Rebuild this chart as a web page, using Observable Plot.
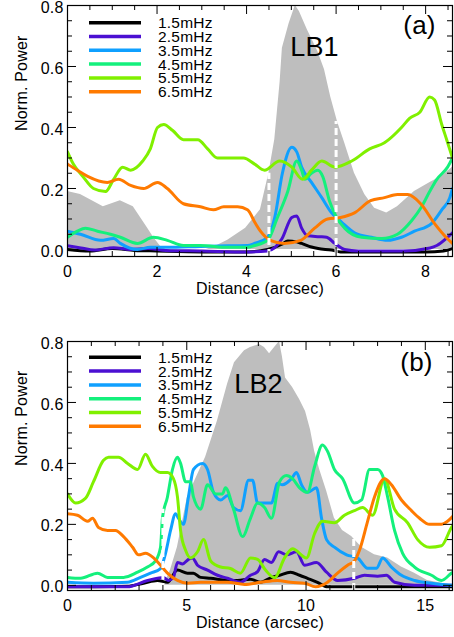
<!DOCTYPE html>
<html><head><meta charset="utf-8">
<script src="https://cdn.jsdelivr.net/npm/d3@7"></script>
<script src="https://cdn.jsdelivr.net/npm/@observablehq/plot@0.6"></script>
<style>
body{margin:0;background:#fff;}
#chart{width:454px;}
#chart svg{display:block;}
</style></head><body><div id="chart"></div>
<script>
const freqs = ["1.5mHz","2.5mHz","3.5mHz","4.5mHz","5.5mHz","6.5mHz"];
const colors = ["#000000","#4b0fd2","#0fa0ff","#14f07c","#80f000","#ff7a00"];

// ---------- Panel (a) : LB1 ----------
const grayA = [[0,0.19],[0.29,0.18],[0.8,0.14],[1.18,0.16],[1.47,0.14],[1.79,0.07],[1.92,0.04],[2.08,0.01],[2.2,0],[3.1,0],[3.3,0.01],[3.58,0.03],[3.98,0.07],[4.31,0.13],[4.5,0.25],[4.63,0.36],[4.75,0.55],[4.8,0.66],[4.95,0.74],[5.09,0.80],[5.18,0.78],[5.36,0.72],[5.59,0.65],[5.74,0.59],[5.88,0.5],[6.03,0.42],[6.19,0.35],[6.41,0.25],[6.64,0.18],[6.86,0.135],[7.13,0.12],[7.37,0.14],[7.75,0.19],[8.1,0.22],[8.36,0.24],[8.6,0.27]];
const a15 = [[0,0.0],[0.5,-0.005],[1.0,0.003],[1.5,-0.003],[2.0,-0.005],[3.0,-0.008],[4.0,-0.008],[4.47,0.0],[4.8,0.018],[4.92,0.028],[5.12,0.025],[5.23,0.02],[5.45,0.008],[5.6,0.003],[5.9,-0.002],[6.1,-0.008],[7.0,-0.008],[8.0,-0.008],[8.4,-0.005],[8.6,0.003]];
const a25 = [[0,0.012],[0.3,0.005],[0.6,-0.002],[1.03,0.006],[1.4,0.0],[1.8,0.003],[2.2,-0.003],[3.0,-0.005],[4.0,-0.008],[4.47,-0.005],[4.79,0.035],[5.01,0.105],[5.12,0.11],[5.23,0.07],[5.36,0.045],[5.63,0.042],[5.79,0.04],[5.97,0.02],[6.19,0.0],[6.5,-0.005],[7.5,-0.005],[8.1,0.005],[8.25,0.013],[8.49,0.04],[8.6,0.055]];
const a35 = [[0,0.06],[0.29,0.05],[0.74,0.03],[1.03,0.036],[1.18,0.02],[1.56,0.0],[1.85,0.007],[2.23,0.007],[2.97,0.01],[3.58,0.012],[4.02,0.013],[4.18,0.02],[4.47,0.04],[4.63,0.105],[4.8,0.25],[5.01,0.335],[5.12,0.32],[5.23,0.27],[5.45,0.22],[5.68,0.17],[5.9,0.12],[6.12,0.09],[6.41,0.055],[6.79,0.04],[7.15,0.03],[7.46,0.04],[7.75,0.06],[8.13,0.085],[8.36,0.13],[8.54,0.17],[8.6,0.2]];
const a45 = [[0,0.04],[0.22,0.06],[0.4,0.07],[0.67,0.06],[0.96,0.05],[1.18,0.04],[1.56,0.02],[1.92,0.04],[2.23,0.03],[2.59,0.013],[2.97,0.013],[3.58,0.007],[4.02,0.007],[4.18,0.013],[4.47,0.03],[4.69,0.105],[4.92,0.19],[5.12,0.29],[5.23,0.26],[5.3,0.23],[5.45,0.25],[5.59,0.26],[5.7,0.24],[5.85,0.16],[6.01,0.105],[6.19,0.07],[6.57,0.04],[7.02,0.036],[7.37,0.05],[7.69,0.095],[7.91,0.14],[8.09,0.19],[8.25,0.23],[8.49,0.27],[8.6,0.30]];
const a55 = [[0,0.32],[0.13,0.28],[0.34,0.24],[0.58,0.20],[0.85,0.19],[1.03,0.23],[1.23,0.27],[1.41,0.26],[1.68,0.29],[1.85,0.33],[2.01,0.40],[2.15,0.41],[2.35,0.39],[2.59,0.36],[2.91,0.36],[3.13,0.33],[3.35,0.30],[3.64,0.30],[3.93,0.30],[4.18,0.28],[4.4,0.26],[4.74,0.29],[5.01,0.27],[5.25,0.23],[5.45,0.26],[5.68,0.29],[5.97,0.27],[6.35,0.29],[6.75,0.33],[7.08,0.35],[7.46,0.40],[7.64,0.43],[7.87,0.45],[8.09,0.50],[8.2,0.49],[8.36,0.41],[8.47,0.36],[8.6,0.30]];
const a65 = [[0,0.28],[0.22,0.26],[0.45,0.24],[0.89,0.22],[1.14,0.23],[1.41,0.21],[1.7,0.20],[2.01,0.22],[2.23,0.20],[2.59,0.15],[2.97,0.14],[3.26,0.13],[3.49,0.14],[3.8,0.14],[4.02,0.13],[4.2,0.085],[4.31,0.06],[4.53,0.03],[4.84,0.02],[5.21,0.03],[5.52,0.07],[5.81,0.10],[6.1,0.105],[6.41,0.12],[6.77,0.16],[7.08,0.17],[7.37,0.18],[7.6,0.18],[7.89,0.15],[8.2,0.085],[8.49,0.035],[8.6,0.02]];
const dashA = [{x:4.5, top:0.25},{x:6.0, top:0.42}];

// ---------- Panel (b) : LB2 ----------
const grayB = [[0,0],[4.05,0],[4.32,0.05],[4.61,0.125],[5.03,0.29],[5.79,0.42],[6.29,0.54],[6.71,0.66],[7.0,0.73],[7.42,0.77],[7.67,0.78],[8.05,0.79],[8.26,0.78],[8.47,0.76],[8.68,0.78],[8.89,0.80],[9.01,0.75],[9.14,0.68],[9.43,0.65],[9.73,0.61],[9.98,0.57],[10.19,0.51],[10.36,0.44],[10.57,0.38],[10.86,0.31],[11.19,0.22],[11.53,0.18],[11.91,0.16],[12.33,0.125],[12.87,0.10],[13.42,0.09],[14.0,0.06],[14.55,0.04],[15.09,0.016],[15.68,0.007],[16.2,0]];
const b15 = [[0,-0.005],[2.5,-0.003],[3.19,0.007],[3.77,0.016],[4.19,0.01],[4.61,0.05],[5.03,0.04],[5.28,0.04],[5.58,0.026],[6.0,0.023],[6.71,0.016],[7.13,0.016],[7.67,0.02],[8.1,0.01],[8.47,0.023],[8.89,0.033],[9.35,0.043],[9.73,0.033],[10.06,0.023],[10.48,0.01],[10.9,-0.005],[16.2,-0.005]];
const b25 = [[0,-0.005],[1.4,-0.005],[2.5,-0.005],[3.36,0.016],[3.77,0.023],[4.02,0.026],[4.23,0.016],[4.44,0.026],[4.61,0.075],[4.82,0.07],[5.07,0.085],[5.24,0.09],[5.45,0.066],[5.87,0.05],[6.29,0.033],[6.71,0.023],[7.25,0.01],[7.67,0.033],[7.97,0.045],[8.26,0.085],[8.55,0.075],[8.85,0.11],[9.18,0.10],[9.6,0.11],[9.94,0.066],[10.44,0.075],[10.86,0.043],[11.32,0.016],[12.03,0.023],[12.45,0.033],[13.0,0.03],[13.37,0.033],[13.71,0.01],[14.55,0.0],[16.2,0.0]];
const b35 = [[0,0.01],[1.09,0.007],[2.52,0.01],[3.06,0.026],[3.48,0.04],[3.9,0.055],[4.11,0.105],[4.32,0.18],[4.53,0.235],[4.65,0.22],[4.86,0.20],[5.07,0.29],[5.28,0.38],[5.66,0.40],[5.87,0.38],[6.12,0.305],[6.42,0.28],[6.71,0.295],[6.96,0.255],[7.25,0.245],[7.59,0.345],[7.76,0.345],[7.97,0.27],[8.2,0.27],[8.55,0.27],[8.81,0.335],[9.01,0.33],[9.39,0.35],[9.6,0.37],[9.81,0.33],[10.06,0.305],[10.44,0.32],[10.65,0.22],[10.86,0.15],[11.19,0.125],[11.7,0.10],[12.16,0.09],[12.58,0.056],[12.96,0.056],[13.21,0.09],[13.58,0.06],[14.0,0.033],[14.55,0.016],[15.26,0.007],[16.2,0.0]];
const b45 = [[0,0.026],[0.55,0.023],[1.26,0.04],[1.68,0.026],[2.35,0.026],[2.94,0.043],[3.35,0.06],[3.69,0.08],[3.9,0.125],[3.98,0.22],[4.19,0.29],[4.4,0.38],[4.61,0.42],[4.74,0.40],[4.95,0.34],[5.16,0.34],[5.28,0.29],[5.58,0.25],[5.87,0.33],[6.21,0.30],[6.5,0.30],[6.62,0.32],[6.96,0.25],[7.34,0.16],[7.67,0.22],[7.97,0.27],[8.26,0.255],[8.55,0.22],[8.89,0.34],[9.18,0.36],[9.43,0.35],[9.73,0.32],[10.06,0.305],[10.36,0.39],[10.69,0.46],[10.9,0.44],[11.19,0.38],[11.53,0.35],[12.03,0.27],[12.33,0.28],[12.66,0.38],[13.0,0.38],[13.21,0.36],[13.42,0.29],[13.71,0.18],[14.05,0.105],[14.55,0.06],[15.26,0.033],[15.68,0.016],[16.1,0.04],[16.2,0.045]];
const b55 = [[0,0.30],[0.34,0.27],[0.75,0.285],[1.09,0.34],[1.51,0.41],[1.72,0.42],[2.14,0.42],[2.52,0.40],[2.94,0.38],[3.27,0.43],[3.56,0.39],[3.9,0.37],[4.19,0.37],[4.44,0.35],[4.61,0.29],[4.74,0.18],[4.95,0.115],[5.16,0.09],[5.45,0.11],[5.7,0.15],[6.0,0.08],[6.42,0.06],[6.83,0.055],[7.25,0.04],[7.67,0.09],[7.97,0.085],[8.3,0.05],[8.68,0.025],[9.1,0.09],[9.43,0.12],[10.02,0.09],[10.36,0.17],[10.69,0.21],[11.19,0.205],[11.61,0.23],[12.03,0.245],[12.37,0.255],[12.79,0.23],[13.29,0.35],[13.71,0.25],[14.26,0.205],[14.68,0.15],[15.18,0.125],[15.68,0.13],[16.1,0.19],[16.2,0.2]];
const b65 = [[0,0.235],[0.42,0.23],[0.84,0.21],[1.05,0.22],[1.3,0.19],[1.68,0.18],[2.01,0.18],[2.35,0.16],[2.73,0.125],[2.98,0.10],[3.27,0.105],[3.61,0.09],[3.9,0.066],[4.19,0.04],[4.61,0.016],[5.03,0.007],[5.58,0.01],[6.12,0.01],[6.71,0.01],[7.42,0.003],[8.1,0.01],[8.8,0.016],[9.35,0.01],[9.94,0.007],[10.4,-0.005],[10.9,0.01],[11.32,0.04],[11.74,0.066],[12.03,0.08],[12.24,0.115],[12.58,0.21],[12.87,0.29],[13.29,0.35],[13.58,0.33],[14.0,0.28],[14.42,0.245],[14.76,0.22],[15.18,0.2],[15.68,0.2],[15.93,0.21],[16.2,0.23]];
const dashB = [{x:4.0, top:0.25},{x:12.0, top:0.155}];

const yMajorTicks = [0, 0.2, 0.4, 0.6, 0.8];
const FONT = "Liberation Sans, Arial, Helvetica, sans-serif";
const FS = 16;

function panel(cfg) {
  const W = 454, mL = 67, mR = 2;
  const {series, gray, dashes, xDomain, yDomain, height, marginTop, marginBottom,
         xStep, xMajorEvery, tag, tagDx, tagDy, lbl, lblDx, lblDy, legendTop} = cfg;
  const kx = (W - mL - mR) / (xDomain[1] - xDomain[0]);
  const ky = (height - marginTop - marginBottom) / (yDomain[1] - yDomain[0]);
  const rows = [];
  series.forEach((s, i) => s.forEach(([x, y]) => rows.push({x, y, f: freqs[i]})));
  const xt = d3.range(0, xDomain[1] + 1e-9, xStep).map((v, i) => ({v, len: i % xMajorEvery === 0 ? 9 : 5}));
  const yt = d3.range(0, 17).map(i => ({v: i * 0.05, len: i % 4 === 0 ? 9 : 5}));
  const xMajor = xt.filter((d, i) => i % xMajorEvery === 0).map(d => d.v);
  const p = Plot.plot({
    width: W, height, marginLeft: mL, marginRight: mR, marginTop, marginBottom,
    style: `font-family:${FONT};font-size:${FS}px;letter-spacing:0.2px;color:black;background:white;overflow:visible;`,
    x: {domain: xDomain},
    y: {domain: yDomain},
    color: {domain: freqs, range: colors},
    marks: [
      Plot.areaY(gray, {x: d => d[0], y: d => d[1], fill: "#bebebe", clip: true}),
      Plot.line(rows, {x: "x", y: "y", z: "f", stroke: "f", strokeWidth: 3, curve: "monotone-x", clip: true}),
      Plot.ruleX(dashes, {x: "x", y1: yDomain[0], y2: "top", stroke: "white", strokeWidth: 3, strokeDasharray: "7,4"}),
      Plot.frame({stroke: "black", strokeWidth: 1.2}),
      Plot.ruleY(yt, {y: "v", x1: xDomain[0], x2: d => xDomain[0] + d.len / kx, stroke: "black"}),
      Plot.ruleY(yt, {y: "v", x1: xDomain[1], x2: d => xDomain[1] - d.len / kx, stroke: "black"}),
      Plot.ruleX(xt, {x: "v", y1: yDomain[0], y2: d => yDomain[0] + d.len / ky, stroke: "black"}),
      Plot.ruleX(xt, {x: "v", y1: yDomain[1], y2: d => yDomain[1] - d.len / ky, stroke: "black"}),
      Plot.axisY(yMajorTicks, {tickSize: 0, tickPadding: 4, dy: 2, tickFormat: d3.format(".1f"), fontSize: FS}),
      Plot.axisX(xMajor, {tickSize: 0, tickPadding: 9, tickFormat: d => String(d), fontSize: FS}),
      Plot.text(["Distance (arcsec)"], {frameAnchor: "bottom", dy: 26, lineAnchor: "top", fontSize: FS}),
      Plot.text(["Norm. Power"], {frameAnchor: "left", dx: -46, rotate: -90, fontSize: FS}),
      Plot.text([tag], {frameAnchor: "top-right", dx: tagDx, dy: tagDy, lineAnchor: "bottom", textAnchor: "middle", fontSize: 26}),
      Plot.text([lbl], {frameAnchor: "top-left", dx: lblDx, dy: lblDy, lineAnchor: "bottom", textAnchor: "middle", fontSize: 27})
    ]
  });
  const svg = d3.select(p);
  const g = svg.append("g").attr("text-anchor", "start");
  freqs.forEach((f, i) => {
    const y = legendTop + i * 13.8;
    g.append("line").attr("x1", 89).attr("x2", 141).attr("y1", y).attr("y2", y)
      .attr("stroke", colors[i]).attr("stroke-width", 3.5);
    g.append("text").attr("x", 158).attr("y", y).attr("dy", "0.36em")
      .attr("text-anchor", "start").attr("font-size", 15.5).attr("fill", "black").text(f);
  });
  return p;
}

const chart = document.getElementById("chart");
chart.appendChild(panel({
  series: [a15, a25, a35, a45, a55, a65], gray: grayA, dashes: dashA,
  xDomain: [0, 8.6], yDomain: [-0.023, 0.8], height: 300, marginTop: 5, marginBottom: 44,
  xStep: 0.5, xMajorEvery: 4, tag: "(a)", tagDx: -33, tagDy: 28, lbl: "LB1", lblDx: 247, lblDy: 50,
  legendTop: 22.7
}));
chart.appendChild(panel({
  series: [b15, b25, b35, b45, b55, b65], gray: grayB, dashes: dashB,
  xDomain: [0, 16.14], yDomain: [-0.017, 0.8], height: 337, marginTop: 41, marginBottom: 47,
  xStep: 1, xMajorEvery: 5, tag: "(b)", tagDx: -36, tagDy: 29, lbl: "LB2", lblDx: 191, lblDy: 51,
  legendTop: 57.3
}));
</script></body></html>
